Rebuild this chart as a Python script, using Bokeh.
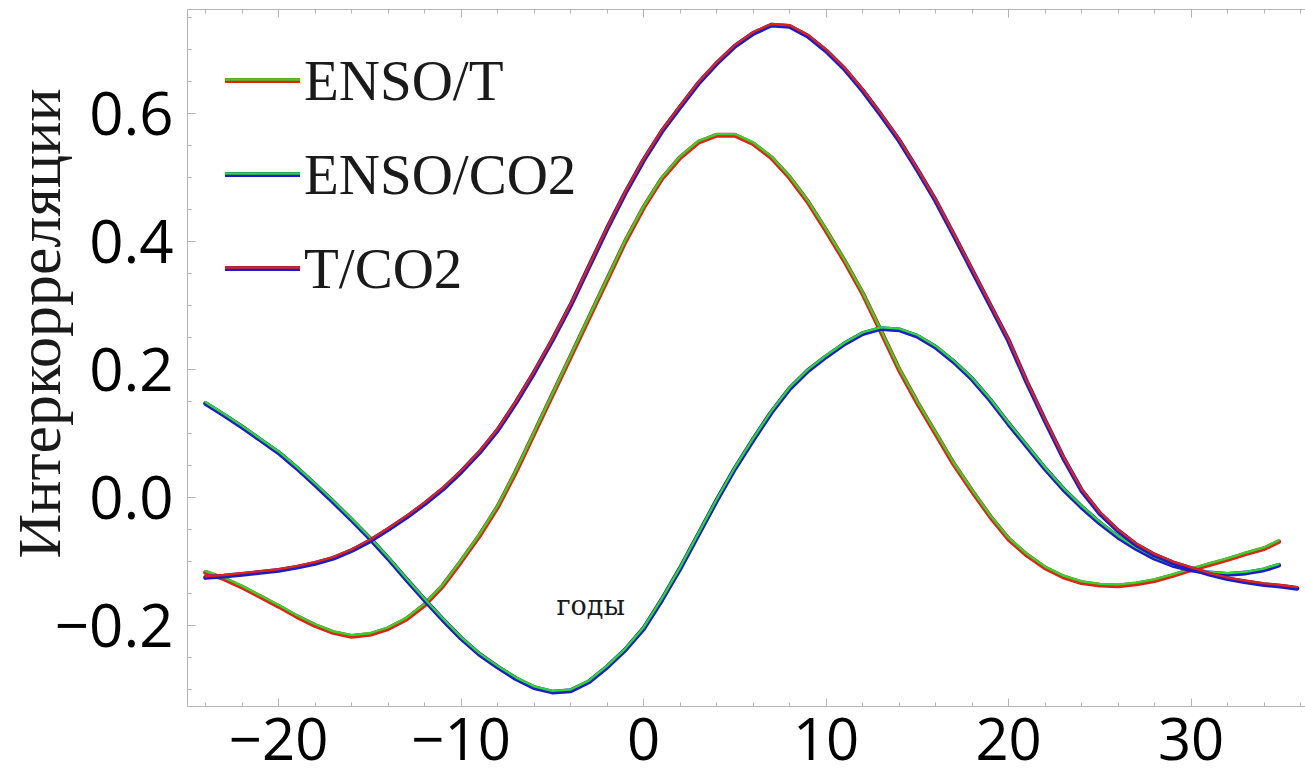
from bokeh.plotting import figure
from bokeh.models import (Range1d, LinearAxis, FixedTicker, Legend, LegendItem, Label, Title)
from bokeh.embed import file_html
from bokeh.resources import INLINE

# ---- data ----
lag_enso_t = [-24, -23, -22, -21, -20, -19, -18, -17, -16, -15, -14, -13, -12, -11, -10, -9, -8, -7, -6, -5,
              -4, -3, -2, -1, 0, 1, 2, 3, 4, 5, 6, 7, 8, 9, 10, 11, 12, 13, 14, 15, 16, 17, 18, 19, 20, 21,
              22, 23, 24, 25, 26, 27, 28, 29, 30, 31, 32, 33, 34, 34.8]
enso_t = [-0.117, -0.127, -0.140, -0.155, -0.170, -0.186, -0.200, -0.211, -0.217, -0.214, -0.205, -0.190,
          -0.168, -0.138, -0.100, -0.060, -0.015, 0.040, 0.100, 0.160, 0.220, 0.280, 0.340, 0.400, 0.453,
          0.498, 0.531, 0.555, 0.566, 0.566, 0.553, 0.531, 0.500, 0.462, 0.417, 0.370, 0.319, 0.260, 0.200,
          0.148, 0.100, 0.052, 0.010, -0.030, -0.065, -0.090, -0.110, -0.124, -0.133, -0.137, -0.138,
          -0.135, -0.130, -0.122, -0.113, -0.105, -0.097, -0.088, -0.080, -0.069]

lag_enso_co2 = [-24, -23, -22, -21, -20, -19, -18, -17, -16, -15, -14, -13, -12, -11, -10, -9, -8, -7, -6,
                -5, -4, -3, -2, -1, 0, 1, 2, 3, 4, 5, 6, 7, 8, 9, 10, 11, 12, 13, 14, 15, 16, 17, 18, 19,
                20, 21, 22, 23, 24, 25, 26, 27, 28, 29, 30, 31, 32, 33, 34, 34.8]
enso_co2 = [0.147, 0.129, 0.110, 0.090, 0.070, 0.046, 0.020, -0.007, -0.035, -0.064, -0.095, -0.128, -0.160,
            -0.191, -0.220, -0.245, -0.265, -0.283, -0.297, -0.304, -0.302, -0.288, -0.265, -0.238, -0.205,
            -0.160, -0.111, -0.058, -0.005, 0.045, 0.090, 0.133, 0.170, 0.198, 0.220, 0.240, 0.256, 0.264,
            0.262, 0.252, 0.235, 0.212, 0.185, 0.152, 0.115, 0.080, 0.045, 0.013, -0.015, -0.040, -0.062,
            -0.080, -0.095, -0.106, -0.113, -0.118, -0.120, -0.118, -0.113, -0.106]

lag_t_co2 = [-24, -23, -22, -21, -20, -19, -18, -17, -16, -15, -14, -13, -12, -11, -10, -9, -8, -7, -6, -5,
             -4, -3, -2, -1, 0, 1, 2, 3, 4, 5, 6, 7, 8, 9, 10, 11, 12, 13, 14, 15, 16, 17, 18, 19, 20, 21,
             22, 23, 24, 25, 26, 27, 28, 29, 30, 31, 32, 33, 34, 35, 35.8]
t_co2 = [-0.125, -0.123, -0.120, -0.117, -0.114, -0.109, -0.103, -0.095, -0.083, -0.068, -0.050, -0.031,
         -0.010, 0.013, 0.040, 0.070, 0.105, 0.148, 0.195, 0.246, 0.300, 0.360, 0.420, 0.476, 0.527, 0.572,
         0.610, 0.647, 0.678, 0.705, 0.725, 0.738, 0.736, 0.721, 0.698, 0.670, 0.636, 0.598, 0.558, 0.512,
         0.464, 0.410, 0.355, 0.300, 0.245, 0.180, 0.120, 0.062, 0.011, -0.025, -0.052, -0.074, -0.090,
         -0.102, -0.111, -0.120, -0.127, -0.132, -0.136, -0.139, -0.142]

series_names = ["ENSO/T", "ENSO/CO2", "T/CO2"]
x_ticks = [-20, -10, 0, 10, 20, 30]
x_tick_labels = ["\u221220", "\u221210", "0", "10", "20", "30"]
y_ticks = [-0.2, 0.0, 0.2, 0.4, 0.6]
y_tick_labels = ["\u22120.2", "0.0", "0.2", "0.4", "0.6"]
y_title = "Интеркорреляции"
x_title = "годы"

# ---- styles ----
RED = "#e02414"
GREEN = "#2fd62f"
BLUE = "#1c1cc8"
pairs = [(GREEN, RED), (GREEN, BLUE), (RED, BLUE)]   # (top colour, bottom colour)

W, H = 1305, 777
BL, BR, BT, BB = 187, 0, 9, 71
x0, x1 = -24.99, 36.27
y0, y1 = -0.3266, 0.7625
frame_h = H - BT - BB
shift = 1.2 * (y1 - y0) / frame_h

p = figure(width=W, height=H, output_backend="svg", toolbar_location=None,
           x_range=Range1d(x0, x1), y_range=Range1d(y0, y1),
           min_border_left=BL, min_border_right=BR, min_border_top=BT, min_border_bottom=BB,
           x_axis_type=None, y_axis_type=None)
p.outline_line_color = None
p.background_fill_color = "white"
p.border_fill_color = "white"
p.extra_y_ranges = {"hi": Range1d(y0 - shift, y1 - shift)}

AX = "#b4b4b4"
FONT = "Open Sans"

def style_axis(ax, labels=True):
    ax.axis_line_color = AX
    ax.major_tick_line_color = AX
    ax.minor_tick_line_color = AX
    ax.major_tick_in = 8
    ax.major_tick_out = 0
    ax.minor_tick_in = 4
    ax.minor_tick_out = 0
    ax.major_label_text_font = FONT
    ax.major_label_text_font_size = "60px"
    ax.major_label_text_color = "black"
    if not labels:
        ax.major_label_text_font_size = "0px"
        ax.major_label_standoff = 0

xminor = list(range(-24, 38, 2))
xb = LinearAxis(ticker=FixedTicker(ticks=x_ticks, minor_ticks=xminor),
                major_label_overrides={t: l for t, l in zip(x_ticks, x_tick_labels)})
style_axis(xb)
xb.major_label_text_font_size = "58px"
xb.major_label_standoff = 11
p.add_layout(xb, "below")

xt = LinearAxis(ticker=FixedTicker(ticks=x_ticks, minor_ticks=xminor),
                major_label_overrides={t: "" for t in x_ticks})
style_axis(xt, labels=False)
p.add_layout(xt, "above")

yminor = [round(-0.3 + 0.05 * i, 2) for i in range(22)]
yl = LinearAxis(ticker=FixedTicker(ticks=y_ticks, minor_ticks=yminor),
                major_label_overrides={t: l for t, l in zip(y_ticks, y_tick_labels)})
style_axis(yl)
yl.major_label_standoff = 14
p.add_layout(yl, "left")

LEG_FONT = "Liberation Serif"
ytitle = Title(text=y_title, align="left", offset=148, standoff=-43,
               text_font=LEG_FONT, text_font_size="62px", text_font_style="normal",
               text_color="#1a1a1a")
p.add_layout(ytitle, "left")

p.xgrid.ticker = FixedTicker(ticks=[0])
p.ygrid.ticker = FixedTicker(ticks=[0])
p.grid.grid_line_color = "#cfcfcf"
p.grid.grid_line_width = 1.2

xs = [lag_enso_t, lag_enso_co2, lag_t_co2]
ys = [enso_t, enso_co2, t_co2]
bottom_r, top_r = [], []
for (top_c, bot_c), x, y in zip(pairs, xs, ys):
    rb = p.line(x, y, line_color=bot_c, line_width=4.8, line_join="round", line_cap="round")
    rt = p.line(x, y, line_color=top_c, line_width=2.3, line_join="round", line_cap="round",
                y_range_name="hi")
    bottom_r.append(rb)
    top_r.append(rt)

leg1 = Legend(items=[LegendItem(label=n, renderers=[r]) for n, r in zip(series_names, bottom_r)],
              location=(38, 391), padding=0, margin=0, spacing=0,
              glyph_width=75, glyph_height=94, label_height=94, label_standoff=4,
              label_text_font=LEG_FONT, label_text_font_size="57px", label_text_color="#1a1a1a",
              border_line_color=None, background_fill_alpha=0)
leg2 = Legend(items=[LegendItem(label="", renderers=[r]) for r in top_r],
              location=(38, 392.2), padding=0, margin=0, spacing=0,
              glyph_width=75, glyph_height=94, label_height=94, label_standoff=4,
              label_text_font=LEG_FONT, label_text_font_size="57px",
              border_line_color=None, background_fill_alpha=0)
p.add_layout(leg1)
p.add_layout(leg2)

xlab = Label(x=-2.9, y=-0.169, text=x_title, text_align="center", text_baseline="middle",
             text_font="DejaVu Serif", text_font_size="27px", text_color="#1a1a1a")
p.add_layout(xlab)

open("out.html", "w").write(file_html(p, INLINE))
